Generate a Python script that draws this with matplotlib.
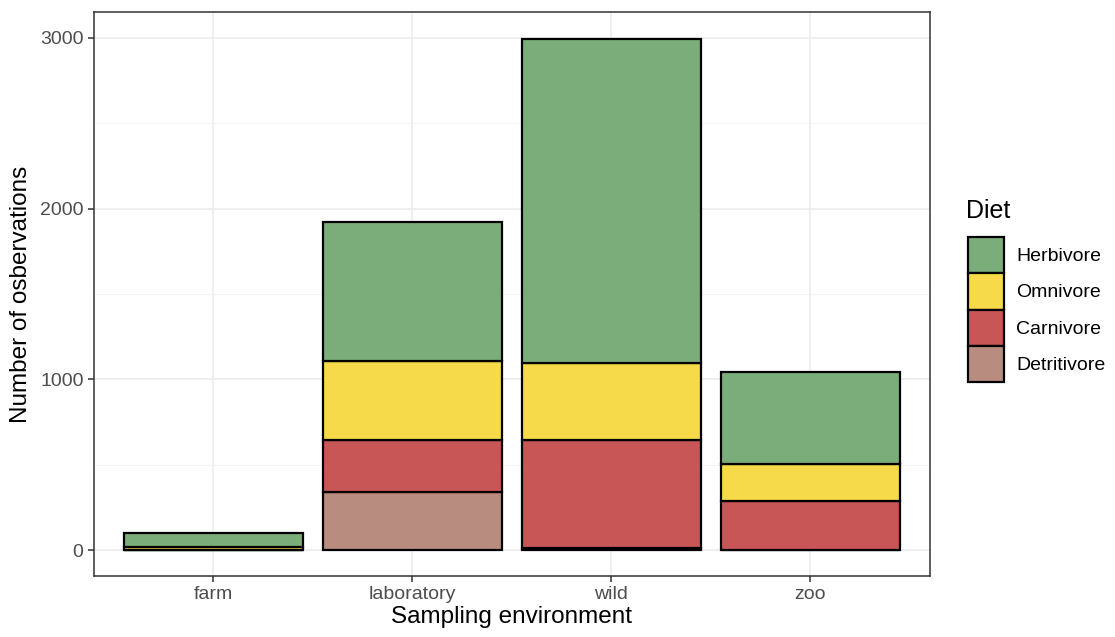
import numpy as np
import matplotlib.pyplot as plt
from matplotlib.patches import Patch

plt.rcParams['font.family'] = ['Liberation Sans', 'DejaVu Sans']

# Data
environments = ['farm', 'laboratory', 'wild', 'zoo']
diets = ['Detritivore', 'Carnivore', 'Omnivore', 'Herbivore']   # bottom -> top
counts = {
    'Detritivore': [0, 344, 12, 0],
    'Carnivore':   [0, 304, 636, 286],
    'Omnivore':    [20, 461, 449, 222],
    'Herbivore':   [80, 811, 1897, 537],
}
legend_order = ['Herbivore', 'Omnivore', 'Carnivore', 'Detritivore']

COLORS = {
    'Herbivore': '#7aad7a',
    'Omnivore': '#f6da4a',
    'Carnivore': '#c85656',
    'Detritivore': '#b98c80',
}

fig = plt.figure(figsize=(11.15, 6.37), dpi=100)
ax = fig.add_axes([0.0843, 0.0958, 0.7497, 0.8854])

x = np.arange(1, len(environments) + 1)
bottom = np.zeros(len(environments))
for d in diets:
    vals = np.array(counts[d], dtype=float)
    ax.bar(x, vals, width=0.9, bottom=bottom, color=COLORS[d],
           edgecolor='black', linewidth=1.6, zorder=3)
    bottom += vals

ax.set_xlim(0.4, 4.6)
ax.set_ylim(-150, 3150)
ax.set_xticks(x)
ax.set_xticklabels(environments)
ax.set_yticks([0, 1000, 2000, 3000])
ax.set_yticks([500, 1500, 2500], minor=True)

ax.grid(True, which='major', color='#ebebeb', linewidth=1.1, zorder=0)
ax.grid(True, which='minor', axis='y', color='#f2f2f2', linewidth=0.6, zorder=0)
ax.tick_params(which='major', colors='#333333', labelcolor='#4d4d4d',
               labelsize=14, length=4.5, width=1.1, pad=3)
ax.tick_params(which='minor', length=0)
for s in ax.spines.values():
    s.set_color('#333333')
    s.set_linewidth(1.1)

ax.set_xlabel('Sampling environment', fontsize=17.5, labelpad=2)
ax.set_ylabel('Number of osbervations', fontsize=17.5, labelpad=6)

# Legend: title as separate text, keys stacked without gaps
fig.text(0.8668, 0.668, 'Diet', fontsize=18, ha='left', va='center')
handles = [Patch(facecolor=COLORS[d], edgecolor='black', linewidth=1.6)
           for d in legend_order]
leg = fig.legend(handles, legend_order, loc='upper left',
                 bbox_to_anchor=(0.8685, 0.628), frameon=False, fontsize=14,
                 handlelength=1.85, handleheight=2.5, labelspacing=0.0,
                 handletextpad=0.6, borderaxespad=0, borderpad=0)

fig.savefig('out.png', dpi=100)
